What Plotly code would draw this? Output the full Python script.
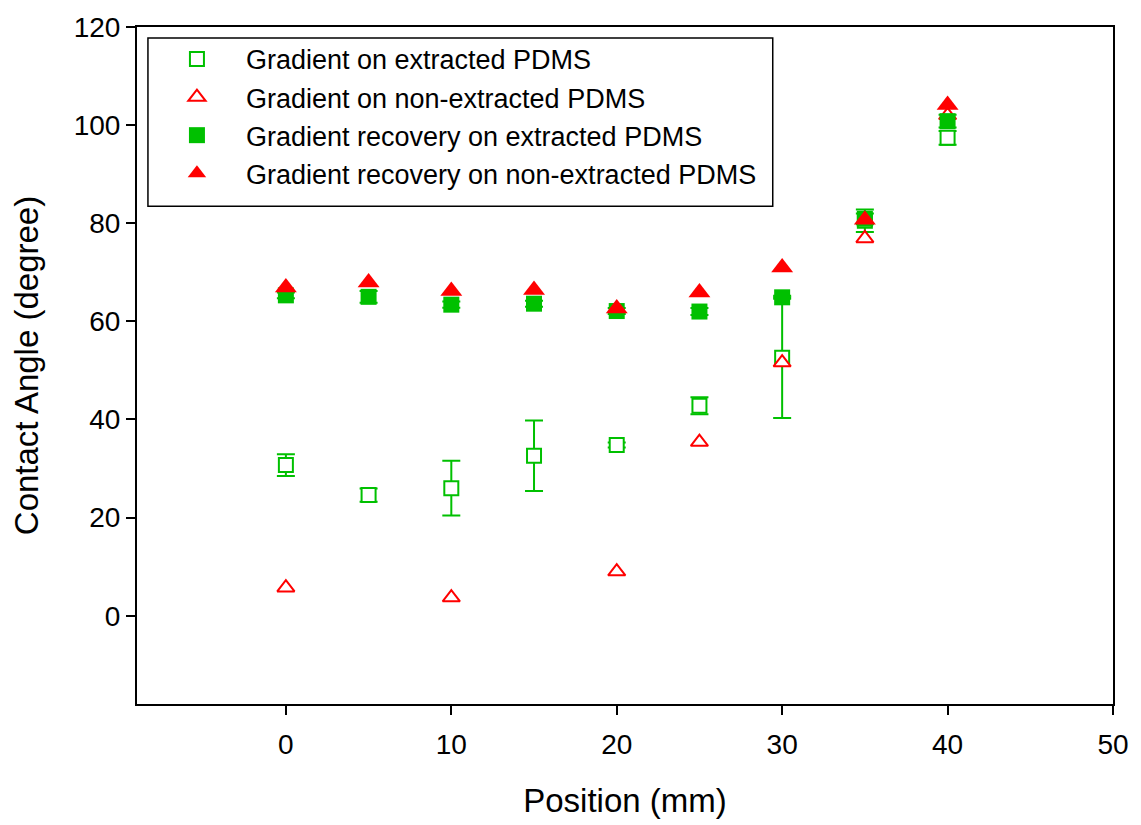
import plotly.graph_objects as go

# ---- data ----
positions = [0, 5, 10, 15, 20, 25, 30, 35, 40]

grad_extracted = [30.7, 24.6, 26.0, 32.6, 34.8, 42.8, 52.6, 80.5, 97.4]
grad_extracted_err = [2.2, 1.35, 5.6, 7.2, 0.5, 1.75, 12.3, 2.3, 1.4]

grad_nonextracted_x = [0, 10, 20, 25, 30, 35, 40]
grad_nonextracted = [5.7, 3.7, 9.0, 35.4, 51.6, 76.9, 102.0]

recov_extracted = [65.3, 65.0, 63.4, 63.6, 62.1, 62.0, 64.9, 80.9, 100.8]
recov_extracted_err = [0.6, 1.2, 0.65, 0.6, 0.6, 0.7, 0.3, 1.1, 1.3]

recov_nonextracted = [66.9, 67.9, 66.2, 66.4, 62.6, 65.9, 71.0, 80.7, 104.1]

series_names = [
    "Gradient on extracted PDMS",
    "Gradient on non-extracted PDMS",
    "Gradient recovery on extracted PDMS",
    "Gradient recovery on non-extracted PDMS",
]

GREEN = "#00c000"
RED = "#ff0000"
FONT = "Arial, Liberation Sans, sans-serif"

fig = go.Figure()

fig.add_trace(go.Scatter(
    x=positions, y=grad_extracted, mode="markers", name=series_names[0],
    marker=dict(symbol="square", size=14, color="white",
                line=dict(color=GREEN, width=2)),
    error_y=dict(type="data", array=grad_extracted_err, color=GREEN,
                 thickness=2, width=9),
))
fig.add_trace(go.Scatter(
    x=grad_nonextracted_x, y=grad_nonextracted, mode="markers", name=series_names[1],
    marker=dict(symbol="triangle-up", size=15, color="white",
                line=dict(color=RED, width=2)),
))
fig.add_trace(go.Scatter(
    x=positions, y=recov_extracted, mode="markers", name=series_names[2],
    marker=dict(symbol="square", size=16, color=GREEN, line=dict(width=0)),
    error_y=dict(type="data", array=recov_extracted_err, color=GREEN,
                 thickness=2, width=9),
))
fig.add_trace(go.Scatter(
    x=positions, y=recov_nonextracted, mode="markers", name=series_names[3],
    marker=dict(symbol="triangle-up", size=19, color=RED, line=dict(width=0)),
))

L, R, T, B = 137, 23, 20, 121
W, H = 1141, 825
pw = W - L - R
ph = H - T - B

def px_x(p):
    return (p - L) / pw

def px_y(p):
    return 1 - (p - T) / ph

fig.update_layout(
    width=W, height=H,
    margin=dict(l=L, r=R, t=T, b=B, pad=0),
    paper_bgcolor="white", plot_bgcolor="white",
    font=dict(family=FONT, color="black", size=27),
    showlegend=True,
    legend=dict(
        x=px_x(148), y=px_y(28), xanchor="left", yanchor="top",
        bgcolor="rgba(0,0,0,0)", borderwidth=0,
        font=dict(family=FONT, size=27, color="black"),
        itemwidth=88, tracegroupgap=0,
    ),
    shapes=[dict(type="rect", xref="paper", yref="paper",
                 x0=px_x(148), x1=px_x(776), y0=px_y(201), y1=px_y(31),
                 line=dict(color="black", width=1.5), fillcolor="rgba(0,0,0,0)",
                 layer="below")],
)

fig.update_xaxes(
    range=[-9, 50], tick0=0, dtick=10,
    showline=True, mirror=True, linecolor="black", linewidth=2,
    ticks="outside", ticklen=9, tickwidth=1.5, tickcolor="black",
    showgrid=False, zeroline=False, ticklabelstandoff=5,
    tickfont=dict(family=FONT, size=28),
    title=dict(text="Position (mm)", font=dict(family=FONT, size=33), standoff=30),
)
fig.update_yaxes(
    range=[-18, 120], tick0=0, dtick=20,
    showline=True, mirror=True, linecolor="black", linewidth=2,
    ticks="outside", ticklen=9, tickwidth=1.5, tickcolor="black",
    showgrid=False, zeroline=False,
    tickfont=dict(family=FONT, size=28),
    title=dict(text="Contact Angle (degree)", font=dict(family=FONT, size=33), standoff=25),
)

fig.write_html("out.html")
